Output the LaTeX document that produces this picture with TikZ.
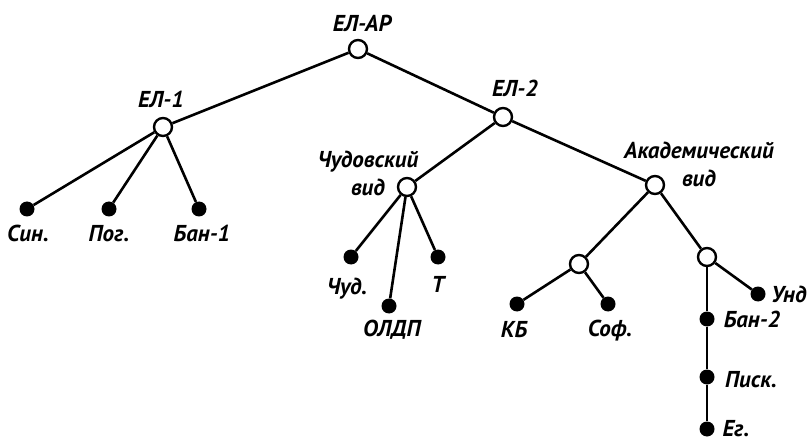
\documentclass[tikz,border=0pt]{standalone}
\usepackage{fontspec}
\setmainfont{PT Sans}
\usepackage{tikz}

\begin{document}
\begin{tikzpicture}[x=1pt,y=-1pt,
    open/.style={draw,circle,line width=2.4pt,fill=white,minimum size=18pt,inner sep=0pt},
    leaf/.style={fill,circle,minimum size=15pt,inner sep=0pt},
    txt/.style={font=\bfseries\itshape\fontsize{23}{28}\selectfont,inner sep=0pt,anchor=base},
    twoline/.style={txt,anchor=center,align=center},
    edge/.style={line width=2.6pt}]

    \useasboundingbox (0,0) rectangle (812,441);

    % branching points
    \node[open] (elar) at (358,49) {};
    \node[open] (el1) at (163,127) {};
    \node[open] (el2) at (503,117) {};
    \node[open] (chudvid) at (407,187) {};
    \node[open] (akadvid) at (655,185) {};
    \node[open] (kbsof) at (579,264) {};
    \node[open] (ban2und) at (707,257) {};

    % manuscripts
    \node[leaf] (sin) at (27,209) {};
    \node[leaf] (pog) at (109,209) {};
    \node[leaf] (ban1) at (199,209) {};
    \node[leaf] (chud) at (351,257) {};
    \node[leaf] (oldp) at (389,306) {};
    \node[leaf] (t) at (438,257) {};
    \node[leaf] (kb) at (517,304) {};
    \node[leaf] (sof) at (608,304) {};
    \node[leaf] (und) at (758,294) {};
    \node[leaf] (ban2) at (707,319) {};
    \node[leaf] (pisk) at (707,377) {};
    \node[leaf] (eg) at (707,429) {};

    % labels
    \node[txt] (elar-l) at (362,32) {ЕЛ-АР};
    \node[txt] (el1-l) at (161,108) {ЕЛ-1};
    \node[txt] (el2-l) at (515,97) {ЕЛ-2};
    \node[twoline] (chudvid-l) at (368,173) {Чудовский\\вид};
    \node[twoline] (akadvid-l) at (699,164) {Академический\\вид};
    \node[txt] (sin-l) at (28,241) {Син.};
    \node[txt] (pog-l) at (109,241) {Пог.};
    \node[txt] (ban1-l) at (202,241) {Бан-1};
    \node[txt] (chud-l) at (347,294) {Чуд.};
    \node[txt] (oldp-l) at (392,336) {ОЛДП};
    \node[txt] (t-l) at (438,292) {Т};
    \node[txt] (kb-l) at (514,337) {КБ};
    \node[txt] (sof-l) at (610,336) {Соф.};
    \node[txt] (und-l) at (789,302) {Унд};
    \node[txt] (ban2-l) at (752,327) {Бан-2};
    \node[txt] (pisk-l) at (751,387) {Писк.};
    \node[txt] (eg-l) at (736,436) {Ег.};

    \draw[edge] (elar) -- (el1);
    \draw[edge] (elar) -- (el2);
    \draw[edge] (el1) -- (sin);
    \draw[edge] (el1) -- (pog);
    \draw[edge] (el1) -- (ban1);
    \draw[edge] (el2) -- (chudvid);
    \draw[edge] (el2) -- (akadvid);
    \draw[edge] (chudvid) -- (chud);
    \draw[edge] (chudvid) -- (oldp);
    \draw[edge] (chudvid) -- (t);
    \draw[edge] (akadvid) -- (kbsof);
    \draw[edge] (akadvid) -- (ban2und);
    \draw[edge] (kbsof) -- (kb);
    \draw[edge] (kbsof) -- (sof);
    \draw[edge] (ban2und) -- (und);
    \draw[edge] (ban2und) -- (ban2);
    \draw[edge] (ban2) -- (pisk);
    \draw[edge] (pisk) -- (eg);

\end{tikzpicture}
\end{document}
